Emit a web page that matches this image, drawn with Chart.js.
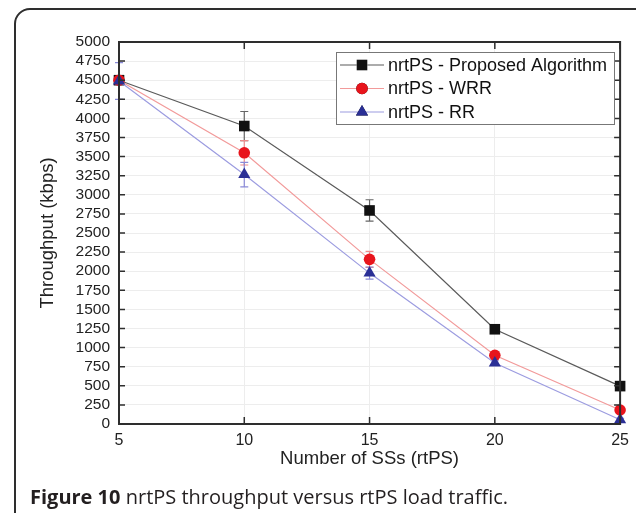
<!DOCTYPE html>
<html>
<head>
<meta charset="utf-8">
<script src="https://cdn.jsdelivr.net/npm/chart.js@4/dist/chart.umd.min.js"></script>
<style>
  html, body { margin: 0; padding: 0; background: #fff; }
  body { width: 636px; height: 513px; position: relative; overflow: hidden; }
  #frame {
    position: absolute; left: 14px; top: 8px; width: 700px; height: 600px;
    border: 2px solid #2e2e2e; border-radius: 16px; box-sizing: border-box;
  }
  #wrap { position: absolute; left: 0; top: 0; width: 636px; height: 513px; }
  #caption {
    position: absolute; left: 30px; top: 487px; white-space: nowrap; line-height: 20px;
    font-family: "Open Sans", sans-serif; font-size: 20px; color: #231f20;
  }
  #caption b { font-weight: 700; }
</style>
</head>
<body>
<div id="frame"></div>
<div id="wrap"><canvas id="chart"></canvas></div>
<div id="caption"><b>Figure 10</b> nrtPS throughput versus rtPS load traffic.</div>
<script>
// valeurs
const ssCounts = [5, 10, 15, 20, 25];
const proposed = [4500, 3900, 2795, 1240, 496];
const wrr = [4500, 3550, 2155, 900, 183];
const rr = [4490, 3265, 1975, 798, 55];
const proposedErr = [0, 190, 140, 40, 20];
const wrrErr = [0, 160, 105, 40, 20];
const rrErr = [240, 160, 80, 30, 20];
const seriesNames = ['nrtPS - Proposed Algorithm', 'nrtPS - WRR', 'nrtPS - RR'];
const yTicks = [0, 250, 500, 750, 1000, 1250, 1500, 1750, 2000, 2250, 2500, 2750, 3000, 3250, 3500, 3750, 4000, 4250, 4500, 4750, 5000];

const toPoints = (vals) => vals.map((v, i) => ({ x: ssCounts[i], y: v }));

// barres d'erreur
const errorBars = {
    id: 'errorBars',
    beforeDatasetsDraw(chart) {
        const ctx = chart.ctx;
        const xs = chart.scales.x, ys = chart.scales.y;
        chart.data.datasets.forEach((ds) => {
            ctx.save();
            ctx.strokeStyle = ds.errColor;
            ctx.lineWidth = 1.2;
            ds.errors.forEach((e, i) => {
                if (!e) return;
                const px = xs.getPixelForValue(ssCounts[i]);
                const top = ys.getPixelForValue(ds.data[i].y + e);
                const bot = ys.getPixelForValue(ds.data[i].y - e);
                ctx.beginPath();
                ctx.moveTo(px, top); ctx.lineTo(px, bot);
                ctx.moveTo(px - 4, top); ctx.lineTo(px + 4, top);
                ctx.moveTo(px - 4, bot); ctx.lineTo(px + 4, bot);
                ctx.stroke();
            });
            ctx.restore();
        });
    }
};

// cadre, graduations intérieures et légende
const frameAndLegend = {
    id: 'frameAndLegend',
    afterDraw(chart) {
        const ctx = chart.ctx;
        const a = chart.chartArea;
        const xs = chart.scales.x, ys = chart.scales.y;
        ctx.save();
        ctx.strokeStyle = '#2e2e2e';
        ctx.lineWidth = 2;
        ctx.strokeRect(a.left, a.top, a.right - a.left, a.bottom - a.top);
        ctx.lineWidth = 1.5;
        ctx.beginPath();
        yTicks.forEach((v) => {
            const py = ys.getPixelForValue(v);
            ctx.moveTo(a.left, py); ctx.lineTo(a.left + 6, py);
            ctx.moveTo(a.right, py); ctx.lineTo(a.right - 6, py);
        });
        ssCounts.forEach((v) => {
            const px = xs.getPixelForValue(v);
            ctx.moveTo(px, a.top); ctx.lineTo(px, a.top + 7);
            ctx.moveTo(px, a.bottom); ctx.lineTo(px, a.bottom - 7);
        });
        ctx.stroke();

        // légende
        const lx = 336, ly = 52, lw = 278, lh = 72;
        ctx.fillStyle = '#fff';
        ctx.fillRect(lx, ly, lw, lh);
        ctx.strokeStyle = '#777';
        ctx.lineWidth = 1;
        ctx.strokeRect(lx + 0.5, ly + 0.5, lw, lh);
        ctx.font = '18px "Liberation Sans", Arial, sans-serif';
        ctx.textBaseline = 'middle';
        const order = [0, 1, 2];
        order.forEach((idx, k) => {
            const ds = chart.data.datasets[idx];
            const cy = ly + 13 + k * 23.5;
            ctx.strokeStyle = ds.borderColor;
            ctx.lineWidth = 1.2;
            ctx.beginPath();
            ctx.moveTo(lx + 4, cy); ctx.lineTo(lx + 48, cy);
            ctx.stroke();
            Chart.helpers.drawPoint(ctx, {
                pointStyle: ds.pointStyle,
                radius: ds.pointRadius,
                rotation: 0,
                borderWidth: 0
            }, lx + 26, cy);
            ctx.fillStyle = ds.pointBackgroundColor;
            ctx.fill();
            ctx.fillStyle = '#111';
            ctx.fillText(seriesNames[idx], lx + 52, cy + 1);
        });
        ctx.restore();
    }
};

const chartCanvas = document.querySelector('#chart');

const lineChart = new Chart(chartCanvas, {
    type: 'line',
    data: {
        datasets: [{
            label: seriesNames[0],
            data: toPoints(proposed),
            errors: proposedErr,
            errColor: '#666',
            borderColor: '#5a5a5a',
            borderWidth: 1.2,
            pointStyle: 'rect',
            pointRadius: 7.5,
            pointBackgroundColor: '#111',
            pointBorderWidth: 0,
            clip: false,
            order: 2,
        },
        {
            label: seriesNames[1],
            data: toPoints(wrr),
            errors: wrrErr,
            errColor: '#ee8a8a',
            borderColor: '#f29a9a',
            borderWidth: 1.2,
            pointStyle: 'circle',
            pointRadius: 5.8,
            pointBackgroundColor: '#e8141c',
            pointBorderWidth: 0,
            clip: false,
            order: 1,
        },
        {
            label: seriesNames[2],
            data: toPoints(rr),
            errors: rrErr,
            errColor: '#8a8ad8',
            borderColor: '#9c9ce0',
            borderWidth: 1.2,
            pointStyle: 'triangle',
            pointRadius: 7,
            pointBackgroundColor: '#2a2f96',
            pointBorderWidth: 0,
            clip: false,
            order: 0,
        },
        ],
    },
    options: {
        responsive: true,
        maintainAspectRatio: false,
        animation: false,
        layout: { padding: { left: 32, top: 42, right: 14, bottom: 39 } },
        plugins: {
            legend: { display: false },
            tooltip: { enabled: false },
        },
        scales: {
            x: {
                type: 'linear',
                min: 5,
                max: 25,
                afterFit: (s) => { s.height = 50; },
                ticks: {
                    stepSize: 5,
                    padding: 7,
                    color: '#222',
                    font: { family: '"Liberation Sans", Arial, sans-serif', size: 16 },
                },
                grid: { color: '#ededed', drawTicks: false },
                border: { display: false },
                title: {
                    display: true,
                    text: 'Number of SSs (rtPS)',
                    color: '#222',
                    padding: { top: 0, bottom: 4 },
                    font: { family: '"Liberation Sans", Arial, sans-serif', size: 18.5 },
                },
            },
            y: {
                min: 0,
                max: 5000,
                afterFit: (s) => { s.width = 87; },
                afterBuildTicks: (s) => { s.ticks = yTicks.map((v) => ({ value: v })); },
                ticks: {
                    autoSkip: false,
                    padding: 9,
                    color: '#222',
                    callback: (v) => String(v),
                    font: { family: '"Liberation Sans", Arial, sans-serif', size: 15.5 },
                },
                grid: { color: '#ededed', drawTicks: false },
                border: { display: false },
                title: {
                    display: true,
                    text: 'Throughput (kbps)',
                    color: '#222',
                    padding: { top: 5, bottom: 0 },
                    font: { family: '"Liberation Sans", Arial, sans-serif', size: 18.5 },
                },
            },
        },
    },
    plugins: [errorBars, frameAndLegend],
});
</script>
</body>
</html>
